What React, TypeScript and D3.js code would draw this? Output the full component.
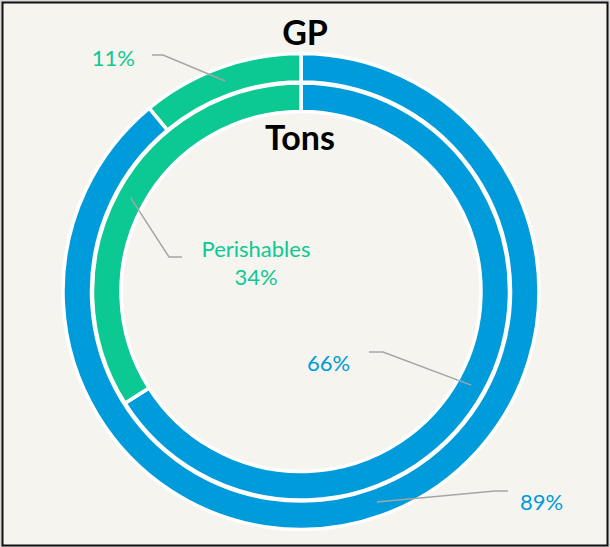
import React from "react";
import * as d3 from "d3";

const categories = ["Other", "Perishables"];
const gpValues = [89, 11];
const tonsValues = [66, 34];
const ringTitles = ["GP", "Tons"];
const colors = ["#009bda", "#0cc993"];

const W = 610;
const H = 547;
const cx = 301;
const cy = 291.5;

export default function App() {
  const pie = d3
    .pie<number>()
    .sort(null)
    .value((d) => d)
    .startAngle(0)
    .endAngle(2 * Math.PI);

  const outerArc = d3.arc<d3.PieArcDatum<number>>().innerRadius(209.5).outerRadius(238);
  const innerArc = d3.arc<d3.PieArcDatum<number>>().innerRadius(180).outerRadius(208.5);

  const gpArcs = pie(gpValues);
  const tonsArcs = pie(tonsValues);

  const c = (a: d3.PieArcDatum<number>, arc: any) => {
    const [x, y] = arc.centroid(a);
    return [cx + x, cy + y];
  };

  const gpGreen = c(gpArcs[1], outerArc);
  const gpBlue = c(gpArcs[0], outerArc);
  const tnGreen = c(tonsArcs[1], innerArc);
  const tnBlue = c(tonsArcs[0], innerArc);

  const font = "Lato, 'Open Sans', sans-serif";
  const lineColor = "#a5a5a5";
  const fmt = (v: number) => `${v}%`;
  const fs = 22;

  return (
    <svg
      width={W}
      height={H}
      style={{ position: "absolute", left: 0, top: 0 }}
      fontFamily={font}
    >
      <rect x={0} y={0} width={W} height={H} fill="#d9d9d9" />
      <rect x={2.5} y={2.5} width={605} height={543} fill="#f5f4ef" stroke="#111" strokeWidth={2} />
      <g transform={`translate(${cx},${cy})`}>
        {gpArcs.map((a, i) => (
          <path key={"o" + i} d={outerArc(a) || ""} fill={colors[i]} stroke="#fff" strokeWidth={3.5} strokeLinejoin="round" />
        ))}
        {tonsArcs.map((a, i) => (
          <path key={"i" + i} d={innerArc(a) || ""} fill={colors[i]} stroke="#fff" strokeWidth={3.5} strokeLinejoin="round" />
        ))}
      </g>

      {/* leader lines */}
      <polyline points={`152,55 163,55 ${gpGreen[0]},${gpGreen[1]}`} fill="none" stroke={lineColor} strokeWidth={1.5} />
      <polyline points={`182,257 169,257 ${tnGreen[0]},${tnGreen[1]}`} fill="none" stroke={lineColor} strokeWidth={1.5} />
      <polyline points={`369,352 383,352 ${tnBlue[0]},${tnBlue[1]}`} fill="none" stroke={lineColor} strokeWidth={1.5} />
      <polyline points={`508,491 495,491 ${gpBlue[0]},${gpBlue[1]}`} fill="none" stroke={lineColor} strokeWidth={1.5} />

      {/* labels */}
      <text x={135} y={66} textAnchor="end" fontSize={fs} fill={colors[1]}>{fmt(gpValues[1])}</text>
      <text x={256} y={257} textAnchor="middle" fontSize={fs} fill={colors[1]}>{categories[1]}</text>
      <text x={256} y={285} textAnchor="middle" fontSize={fs} fill={colors[1]}>{fmt(tonsValues[1])}</text>
      <text x={307} y={371} textAnchor="start" fontSize={fs} fill={colors[0]}>{fmt(tonsValues[0])}</text>
      <text x={520} y={510} textAnchor="start" fontSize={fs} fill={colors[0]}>{fmt(gpValues[0])}</text>

      <text x={305} y={45} textAnchor="middle" fontSize={34} fontWeight="bold" fill="#000">{ringTitles[0]}</text>
      <text x={300} y={150} textAnchor="middle" fontSize={34} fontWeight="bold" fill="#000">{ringTitles[1]}</text>
    </svg>
  );
}
